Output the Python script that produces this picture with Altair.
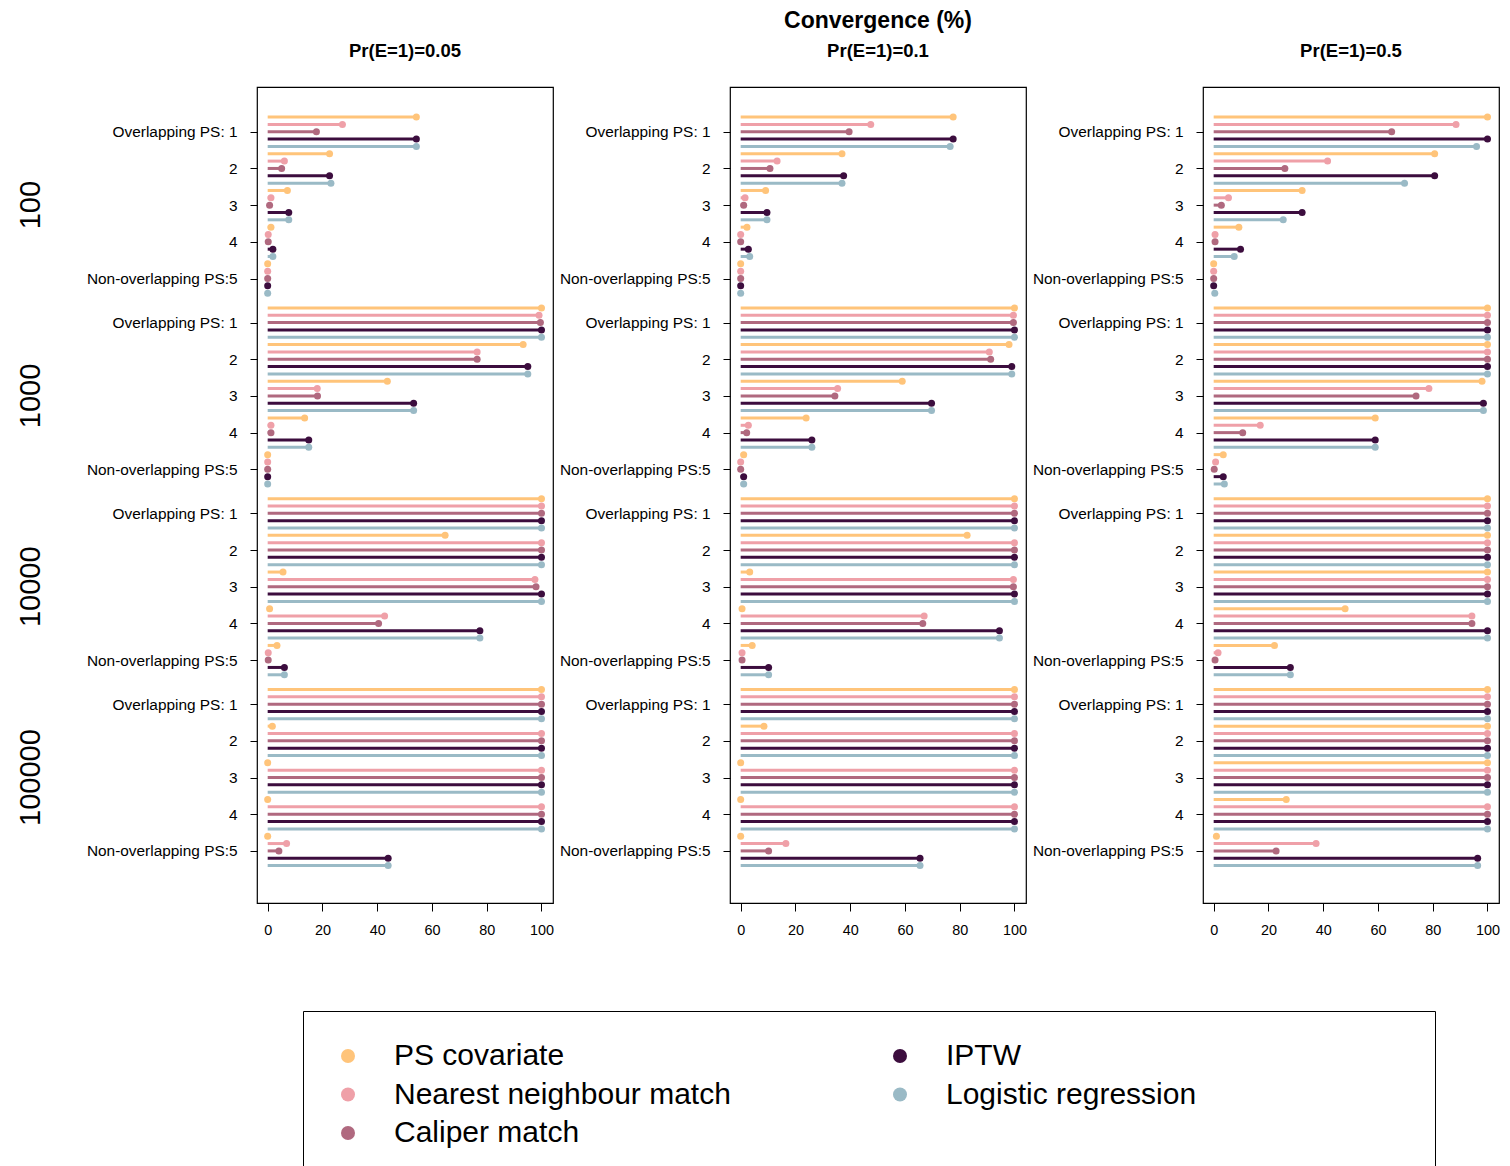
import altair as alt
import pandas as pd

FONT = "Liberation Sans"

methods = ["PS covariate", "Nearest neighbour match", "Caliper match", "IPTW", "Logistic regression"]
method_colors = ["#FFC47A", "#EFA0A8", "#B0697F", "#3C0D3E", "#9ABAC6"]
strata_labels = ["Overlapping PS: 1", "2", "3", "4", "Non-overlapping PS:5"]
sample_sizes = ["100", "1000", "10000", "100000"]
panel_titles = ["Pr(E=1)=0.05", "Pr(E=1)=0.1", "Pr(E=1)=0.5"]
x_ticks = [0, 20, 40, 60, 80, 100]

# Convergence (%) per method; order: n=100 strata 1-5, n=1000 strata 1-5, n=10000 strata 1-5, n=100000 strata 1-5
p005_ps_cov = [54.3, 22.6, 7.2, 1.2, 0, 100, 93.3, 43.7, 13.5, 0, 100, 64.8, 5.6, 0.7, 3.4, 100, 1.7, 0, 0, 0]
p005_nn = [27.3, 6.1, 1.2, 0.2, 0, 99.1, 76.5, 18.1, 1.2, 0, 100, 100, 97.6, 42.7, 0.2, 100, 100, 100, 100, 6.9]
p005_cal = [17.8, 5.1, 0.7, 0.2, 0, 99.6, 76.5, 18.2, 1.2, 0, 100, 100, 98.0, 40.5, 0.2, 100, 100, 100, 100, 4.1]
p005_iptw = [54.3, 22.6, 7.7, 1.9, 0, 100, 95.0, 53.3, 15.0, 0, 100, 100, 100, 77.5, 6.1, 100, 100, 100, 100, 44.0]
p005_lr = [54.3, 23.1, 7.7, 1.9, 0, 100, 95.0, 53.3, 15.0, 0, 100, 100, 100, 77.5, 6.1, 100, 100, 100, 100, 44.0]

p01_ps_cov = [77.6, 37.0, 9.1, 2.3, 0, 100, 98.0, 59.0, 23.9, 1.1, 100, 82.7, 3.3, 0.5, 4.2, 100, 8.5, 0, 0, 0]
p01_nn = [47.5, 13.3, 1.6, 0, 0, 99.6, 90.8, 35.4, 2.8, 0, 100, 100, 99.6, 67.0, 0.5, 100, 100, 100, 100, 16.5]
p01_cal = [39.6, 10.7, 1.1, 0, 0, 99.6, 91.3, 34.4, 2.2, 0, 100, 100, 99.6, 66.5, 0.5, 100, 100, 100, 100, 10.2]
p01_iptw = [77.6, 37.6, 9.6, 2.8, 0, 100, 99.0, 69.7, 26.0, 1.1, 100, 100, 100, 94.5, 10.2, 100, 100, 100, 100, 65.5]
p01_lr = [76.5, 37.0, 9.6, 3.3, 0, 100, 99.0, 69.7, 26.0, 1.1, 100, 100, 100, 94.5, 10.2, 100, 100, 100, 100, 65.5]

p05_ps_cov = [100, 80.7, 32.3, 9.2, 0, 100, 100, 98.0, 59.0, 3.5, 100, 100, 100, 48.0, 22.2, 100, 100, 100, 26.5, 1.0]
p05_nn = [88.5, 41.6, 5.4, 0.5, 0, 100, 100, 78.6, 17.0, 0.7, 100, 100, 100, 94.3, 1.6, 100, 100, 100, 100, 37.4]
p05_cal = [65.0, 26.0, 2.8, 0.5, 0, 100, 100, 73.9, 10.6, 0.2, 100, 100, 100, 94.3, 0.5, 100, 100, 100, 100, 22.8]
p05_iptw = [100, 80.7, 32.3, 9.8, 0, 100, 100, 98.5, 59.0, 3.5, 100, 100, 100, 100, 28.0, 100, 100, 100, 100, 96.4]
p05_lr = [96.0, 69.7, 25.4, 7.5, 0.4, 100, 100, 98.5, 59.0, 3.9, 100, 100, 100, 100, 28.0, 100, 100, 100, 100, 96.4]

panel_values = [
    [p005_ps_cov, p005_nn, p005_cal, p005_iptw, p005_lr],
    [p01_ps_cov, p01_nn, p01_cal, p01_iptw, p01_lr],
    [p05_ps_cov, p05_nn, p05_cal, p05_iptw, p05_lr],
]

GROUP_STEP = 26
STRATUM_STEP = 5


def panel_frame(vals):
    rows = []
    for m, series in enumerate(vals):
        for i, v in enumerate(series):
            g, s = divmod(i, 5)
            rows.append({
                "method": methods[m],
                "value": v,
                "start": 0,
                "ypos": g * GROUP_STEP + s * STRATUM_STEP + m,
            })
    return pd.DataFrame(rows)


y_tick_values = [g * GROUP_STEP + s * STRATUM_STEP + 2 for g in range(4) for s in range(5)]
label_js = "[" + ",".join("'" + l + "'" for l in strata_labels) + "]"
yscale = alt.Scale(domain=[-4.1, 107.1], reverse=True, nice=False, zero=False)
xscale = alt.Scale(domain=[-3.9, 104.2], nice=False, zero=False)
cscale = alt.Scale(domain=methods, range=method_colors)

# blank padding so the second legend column reaches the wide legend frame
legend_pad = "\u00a0" * 25 + "\u200b"
legend = alt.Legend(
    title=None, orient="none", legendX=294, legendY=924, columns=2,
    symbolType="circle", symbolSize=196, symbolStrokeWidth=0, symbolOpacity=1,
    labelFont=FONT, labelFontSize=30, labelColor="black", labelOffset=31,
    labelLimit=2000, columnPadding=154, rowPadding=8.5, padding=30,
    strokeColor="black",
    labelExpr="(datum.label == 'IPTW' || datum.label == 'Logistic regression') ? datum.label + '" + legend_pad + "' : datum.label",
)

W, H = 296, 816


def make_panel(idx, title):
    df = panel_frame(panel_values[idx])
    base = alt.Chart(df)
    yenc = alt.Y("ypos:Q", scale=yscale, axis=alt.Axis(
        values=y_tick_values, labelExpr=label_js + "[((datum.value - 2) % 26) / 5]",
        title=None, grid=False, domain=False, tickSize=7, tickColor="black", labelPadding=13,
        labelFont=FONT, labelFontSize=15.4, labelColor="black", labelOverlap=False))
    xenc = alt.X("start:Q", scale=xscale, axis=alt.Axis(
        values=x_ticks, title=None, grid=False, domain=False, tickSize=8, tickColor="black",
        labelPadding=12, labelFont=FONT, labelFontSize=14.4, labelColor="black", labelOverlap=False))
    rules = base.mark_rule(strokeWidth=3).encode(
        x=xenc, x2="value:Q", y=yenc,
        color=alt.Color("method:N", scale=cscale, legend=legend),
    )
    dots = base.mark_circle(size=49, opacity=1).encode(
        x=alt.X("value:Q", scale=xscale),
        y=alt.Y("ypos:Q", scale=yscale),
        color=alt.Color("method:N", scale=cscale, legend=legend),
    )
    return alt.layer(rules, dots).properties(width=W, height=H, title=title)


t_side = dict(fontSize=18.5, fontWeight="bold", font=FONT, color="black", offset=27, anchor="middle")
p1 = make_panel(0, alt.Title(panel_titles[0], **t_side))
p2 = make_panel(1, alt.Title(
    "Convergence (%)", subtitle=panel_titles[1], fontSize=23, fontWeight="bold", font=FONT, color="black",
    subtitleFont=FONT, subtitleFontSize=18.5, subtitleFontWeight="bold", subtitleColor="black",
    subtitlePadding=9, offset=27, anchor="middle"))
p3 = make_panel(2, alt.Title(panel_titles[2], **t_side))

left_df = pd.DataFrame({
    "label": sample_sizes,
    "ypos": [g * GROUP_STEP + 2 * STRATUM_STEP + 2 for g in range(4)],
})
left = alt.Chart(left_df).mark_text(fontSize=29, angle=270, font=FONT, color="black").encode(
    x=alt.value(22),
    y=alt.Y("ypos:Q", scale=yscale, axis=None),
    text="label:N",
).properties(width=71, height=H, view=alt.ViewBackground(stroke="transparent"))

chart = alt.hconcat(left, p1, p2, p3, spacing=177, bounds="flush").properties(
    padding=0
).configure_view(stroke="black", strokeWidth=1.2)

chart.save("out.html", embed_options={"renderer": "svg", "actions": False})
